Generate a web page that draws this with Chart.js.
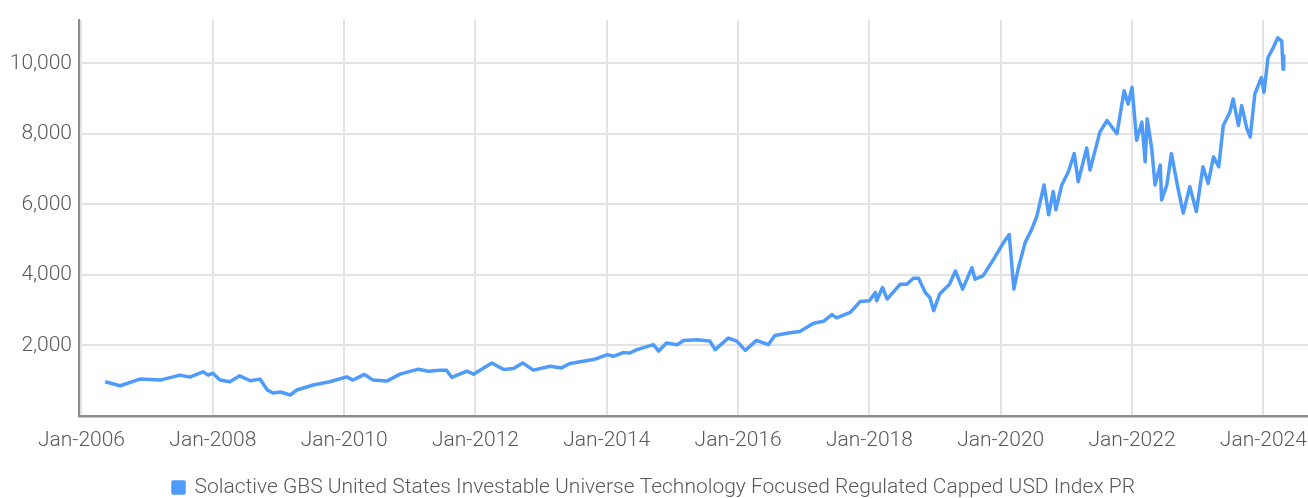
<!DOCTYPE html>
<html>
<head>
<meta charset="utf-8">
<script src="https://cdn.jsdelivr.net/npm/chart.js@4.4.1/dist/chart.umd.min.js"></script>
<style>
  html, body { margin: 0; padding: 0; background: #fff; }
  #wrap { width: 1308px; height: 498px; position: relative; }
</style>
</head>
<body>
<div id="wrap"><canvas id="indexChart"></canvas></div>
<script>
// time axis in decimal years
const seriesName = 'Solactive GBS United States Investable Universe Technology Focused Regulated Capped USD Index PR';
const times = [
  2006.36, 2006.59, 2006.89, 2007.20, 2007.50, 2007.65, 2007.85, 2007.93, 2008.00, 2008.11,
  2008.26, 2008.41, 2008.57, 2008.72, 2008.83, 2008.92, 2009.03, 2009.18, 2009.28, 2009.53,
  2009.78, 2010.04, 2010.13, 2010.31, 2010.44, 2010.65, 2010.85, 2011.13, 2011.28, 2011.46,
  2011.56, 2011.64, 2011.87, 2011.97, 2012.25, 2012.43, 2012.58, 2012.72, 2012.88, 2013.14,
  2013.31, 2013.44, 2013.64, 2013.80, 2014.01, 2014.10, 2014.25, 2014.35, 2014.46, 2014.71,
  2014.79, 2014.91, 2015.07, 2015.17, 2015.37, 2015.57, 2015.65, 2015.85, 2015.98, 2016.11,
  2016.28, 2016.46, 2016.56, 2016.79, 2016.94, 2017.15, 2017.30, 2017.43, 2017.50, 2017.71,
  2017.86, 2018.00, 2018.09, 2018.11, 2018.20, 2018.27, 2018.47, 2018.57, 2018.67, 2018.75,
  2018.85, 2018.92, 2018.98, 2019.07, 2019.22, 2019.31, 2019.42, 2019.56, 2019.61, 2019.73,
  2019.89, 2020.04, 2020.13, 2020.20, 2020.27, 2020.37, 2020.47, 2020.55, 2020.66, 2020.73,
  2020.80, 2020.84, 2020.93, 2021.03, 2021.12, 2021.18, 2021.31, 2021.36, 2021.51, 2021.62,
  2021.77, 2021.88, 2021.94, 2022.00, 2022.07, 2022.15, 2022.20, 2022.23, 2022.30, 2022.35,
  2022.43, 2022.45, 2022.53, 2022.60, 2022.70, 2022.78, 2022.88, 2022.98, 2023.08, 2023.16,
  2023.24, 2023.32, 2023.39, 2023.49, 2023.54, 2023.62, 2023.67, 2023.75, 2023.80, 2023.87,
  2023.97, 2024.01, 2024.07, 2024.15, 2024.22, 2024.28, 2024.30, 2024.31
];
const indexValues = [
  970, 858, 1046, 1018, 1159, 1103, 1252, 1159, 1215, 1018,
  970, 1139, 999, 1046, 737, 653, 681, 596, 737, 878,
  970, 1111, 1018, 1179, 1018, 990, 1187, 1328, 1271, 1300,
  1300, 1094, 1271, 1187, 1505, 1319, 1347, 1505, 1300, 1412,
  1364, 1488, 1553, 1601, 1741, 1693, 1797, 1786, 1882, 2022,
  1842, 2068, 2022, 2143, 2163, 2124, 1882, 2208, 2124, 1862,
  2143, 2022, 2284, 2360, 2397, 2630, 2686, 2875, 2782, 2940,
  3250, 3269, 3502, 3269, 3643, 3316, 3738, 3738, 3907, 3907,
  3502, 3362, 2987, 3457, 3738, 4113, 3598, 4205, 3879, 3972,
  4442, 4909, 5145, 3598, 4205, 4909, 5285, 5660, 6551, 5707,
  6363, 5848, 6551, 6925, 7440, 6644, 7601, 6973, 8051, 8380,
  8003, 9224, 8847, 9316, 7817, 8332, 7207, 8425, 7581, 6551,
  7114, 6129, 6551, 7440, 6456, 5752, 6504, 5800, 7066, 6596,
  7347, 7066, 8239, 8613, 8987, 8239, 8801, 8144, 7910, 9128,
  9598, 9176, 10160, 10441, 10723, 10630, 9831, 10253
];
const xTickYears = [2006, 2008, 2010, 2012, 2014, 2016, 2018, 2020, 2022, 2024];
const yTickValues = [0, 2000, 4000, 6000, 8000, 10000];

const textColor = '#595959';
const lineColor = '#4F9BFA';
const tickFont = { family: 'Roboto', size: 21, weight: 300 };

const points = times.map((t, i) => ({ x: t, y: indexValues[i] }));

new Chart(document.getElementById('indexChart'), {
  type: 'line',
  data: {
    datasets: [{
      label: seriesName,
      data: points,
      borderColor: lineColor,
      backgroundColor: lineColor,
      borderWidth: 3.5,
      borderJoinStyle: 'round',
      pointRadius: 0,
      tension: 0
    }]
  },
  options: {
    responsive: true,
    maintainAspectRatio: false,
    animation: false,
    layout: { padding: { top: 15, right: 0, left: 0, bottom: -10 } },
    plugins: {
      legend: {
        position: 'bottom',
        labels: {
          color: textColor,
          font: tickFont,
          boxWidth: 11,
          boxHeight: 11,
          padding: 10
        }
      },
      tooltip: { enabled: false }
    },
    scales: {
      x: {
        type: 'linear',
        min: 2005.962,
        max: 2024.68,
        afterBuildTicks: (scale) => { scale.ticks = xTickYears.map(v => ({ value: v })); },
        afterFit: (scale) => {
          scale.height = 51;
          scale.paddingLeft = 0;
          scale.paddingRight = 0;
        },
        ticks: {
          color: textColor,
          font: tickFont,
          padding: 12,
          maxRotation: 0,
          autoSkip: false,
          callback: (v) => 'Jan-' + v
        },
        grid: { color: '#e3e3e3', lineWidth: 2, drawTicks: false },
        border: { color: '#8c8c8c', width: 2.5 }
      },
      y: {
        min: 0,
        max: 11240,
        afterBuildTicks: (scale) => { scale.ticks = yTickValues.map(v => ({ value: v })); },
        afterFit: (scale) => { scale.width = 79; },
        ticks: {
          color: textColor,
          font: tickFont,
          padding: 7,
          callback: (v) => v === 0 ? '' : v.toLocaleString('en-US')
        },
        grid: { color: '#e3e3e3', lineWidth: 2, drawTicks: false },
        border: { color: '#8c8c8c', width: 2 }
      }
    }
  }
});
</script>
</body>
</html>
